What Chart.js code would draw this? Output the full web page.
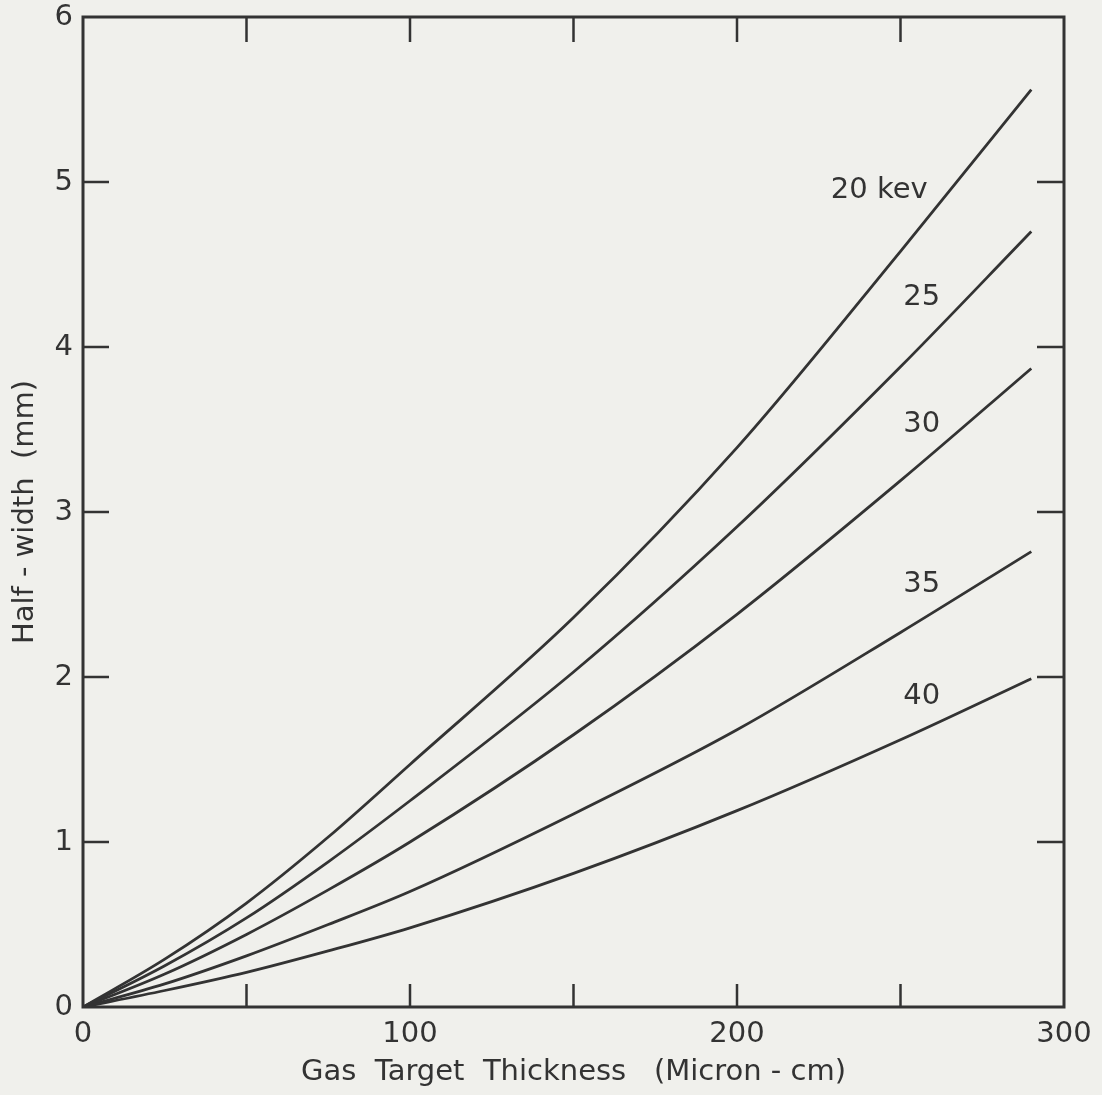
<!DOCTYPE html>
<html>
<head>
<meta charset="utf-8">
<title>Half-width vs gas target thickness</title>
<script src="https://cdn.jsdelivr.net/npm/chart.js@4.4.1/dist/chart.umd.min.js"></script>
<style>
  body { margin: 0; background: #f0f0ec; }
  canvas { display: block; }
</style>
</head>
<body>
<canvas id="chart" width="1102" height="1095"></canvas>
<script>
// thickness values (micron - cm)
const thickness = [0, 25, 50, 75, 100, 150, 200, 250, 290];

// half-width (mm) for each beam energy
const kev20 = [0, 0.29, 0.63, 1.03, 1.47, 2.36, 3.39, 4.58, 5.56];
const kev25 = [0, 0.25, 0.54, 0.88, 1.25, 2.03, 2.91, 3.88, 4.70];
const kev30 = [0, 0.20, 0.44, 0.71, 1.00, 1.65, 2.38, 3.19, 3.87];
const kev35 = [0, 0.14, 0.31, 0.50, 0.70, 1.17, 1.68, 2.27, 2.76];
const kev40 = [0, 0.10, 0.21, 0.34, 0.48, 0.81, 1.19, 1.62, 1.99];

const curveNames = ["20 kev", "25", "30", "35", "40"];

// tick marks drawn inside the frame
const xTickMarks = [50, 100, 150, 200, 250];
const yTickMarks = [1, 2, 3, 4, 5];

const ink = "#333333";
const fontFamily = "'DejaVu Sans', sans-serif";

function toPoints(ys) {
  return thickness.map(function (x, i) {
    return { x: x, y: ys[i] };
  });
}

// where each curve name sits, in data units
const labelSpots = [
  { x: 243.5, y: 4.95 },
  { x: 256.5, y: 4.30 },
  { x: 256.5, y: 3.53 },
  { x: 256.5, y: 2.56 },
  { x: 256.5, y: 1.88 },
];

//------frame, inward ticks and curve names----------
const framePlugin = {
  id: "frame",
  afterDatasetsDraw(chart) {
    const ctx = chart.ctx;
    const a = chart.chartArea;
    const xs = chart.scales.x;
    const ys = chart.scales.y;
    ctx.save();
    ctx.strokeStyle = ink;
    ctx.lineWidth = 3;
    ctx.lineCap = "square";
    ctx.strokeRect(a.left, a.top, a.right - a.left, a.bottom - a.top);

    ctx.lineWidth = 2.5;
    ctx.lineCap = "butt";
    ctx.beginPath();
    xTickMarks.forEach(function (v) {
      const px = xs.getPixelForValue(v);
      ctx.moveTo(px, a.top);
      ctx.lineTo(px, a.top + 25);
      ctx.moveTo(px, a.bottom);
      ctx.lineTo(px, a.bottom - 23);
    });
    yTickMarks.forEach(function (v) {
      const py = ys.getPixelForValue(v);
      ctx.moveTo(a.left, py);
      ctx.lineTo(a.left + 26, py);
      ctx.moveTo(a.right, py);
      ctx.lineTo(a.right - 27, py);
    });
    ctx.stroke();

    ctx.fillStyle = ink;
    ctx.font = "29px " + fontFamily;
    ctx.textAlign = "center";
    ctx.textBaseline = "middle";
    curveNames.forEach(function (name, i) {
      const spot = labelSpots[i];
      ctx.fillText(name, xs.getPixelForValue(spot.x), ys.getPixelForValue(spot.y));
    });
    ctx.restore();
  },
};

const series = [kev20, kev25, kev30, kev35, kev40];

new Chart(document.getElementById("chart"), {
  type: "line",
  data: {
    datasets: series.map(function (ys, i) {
      return {
        label: curveNames[i],
        data: toPoints(ys),
        borderColor: ink,
        borderWidth: 2.8,
        pointRadius: 0,
        fill: false,
        cubicInterpolationMode: "monotone",
      };
    }),
  },
  options: {
    responsive: false,
    animation: false,
    layout: {
      padding: { top: 17, right: 38, left: 0, bottom: 0 },
    },
    plugins: {
      legend: { display: false },
      tooltip: { enabled: false },
    },
    scales: {
      x: {
        type: "linear",
        min: 0,
        max: 300,
        afterFit: function (s) {
          s.height = 88;
        },
        grid: { display: false },
        border: { display: false },
        ticks: {
          stepSize: 100,
          color: ink,
          padding: 2,
          font: { family: fontFamily, size: 29 },
        },
        title: {
          display: true,
          text: "Gas  Target  Thickness   (Micron - cm)",
          color: ink,
          padding: { top: 0, bottom: 5 },
          font: { family: fontFamily, size: 29 },
        },
      },
      y: {
        min: 0,
        max: 6,
        afterFit: function (s) {
          s.width = 83;
          s.paddingTop = 0;
          s.paddingBottom = 0;
        },
        grid: { display: false },
        border: { display: false },
        ticks: {
          stepSize: 1,
          color: ink,
          padding: 2,
          font: { family: fontFamily, size: 29 },
        },
        title: {
          display: true,
          text: "Half - width  (mm)",
          color: ink,
          padding: { top: 8, bottom: 0 },
          font: { family: fontFamily, size: 29 },
        },
      },
    },
  },
  plugins: [framePlugin],
});
</script>
</body>
</html>
